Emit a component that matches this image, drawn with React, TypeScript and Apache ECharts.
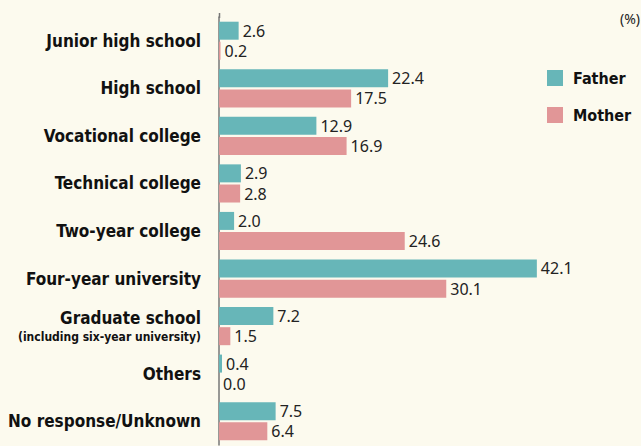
import React, { useEffect, useRef } from "react";
import * as echarts from "echarts";

const categories = [
  "Junior high school",
  "High school",
  "Vocational college",
  "Technical college",
  "Two-year college",
  "Four-year university",
  "Graduate school",
  "Others",
  "No response/Unknown",
];
const fatherValues = [2.6, 22.4, 12.9, 2.9, 2.0, 42.1, 7.2, 0.4, 7.5];
const motherValues = [0.2, 17.5, 16.9, 2.8, 24.6, 30.1, 1.5, 0.0, 6.4];
const seriesNames = ["Father", "Mother"];
const unitLabel = "(%)";

const LABEL_FONT = '"DejaVu Sans Condensed", "DejaVu Sans", sans-serif';
const VALUE_FONT = '"Noto Sans", "Open Sans", sans-serif';

export default function App() {
  const ref = useRef<HTMLDivElement>(null);
  useEffect(() => {
    if (!ref.current) return;
    const chart = echarts.init(ref.current, null, { renderer: "svg" });
    const valueLabel = {
      show: true,
      position: "right",
      distance: 4,
      color: "#222",
      fontSize: 16,
      fontFamily: VALUE_FONT,
      formatter: (p: any) => Number(p.value).toFixed(1),
    };
    chart.setOption({
      animation: false,
      backgroundColor: "#fcfaee",
      title: {
        text: unitLabel,
        right: 1,
        top: 11,
        padding: 0,
        textStyle: { fontSize: 14, fontWeight: "normal", color: "#222", fontFamily: VALUE_FONT },
      },
      legend: {
        orient: "vertical",
        left: 547,
        top: 70,
        padding: 0,
        itemWidth: 16,
        itemHeight: 16,
        itemGap: 21,
        icon: "rect",
        data: seriesNames,
        textStyle: {
          fontSize: 16,
          fontWeight: "bold",
          color: "#111",
          fontFamily: LABEL_FONT,
          padding: [0, 0, 0, 5],
        },
      },
      graphic: [
        {
          type: "line",
          shape: { x1: 219.5, y1: 13, x2: 219.5, y2: 18 },
          style: { stroke: "#777", lineWidth: 1.5 },
        },
      ],
      grid: { left: 219, top: 17, bottom: 1, width: 377.5, containLabel: false, outerBoundsMode: "none" },
      xAxis: {
        type: "value",
        min: 0,
        max: 50,
        show: false,
      },
      yAxis: {
        type: "category",
        inverse: true,
        data: categories,
        axisLine: { show: true, lineStyle: { color: "#777", width: 1.5 } },
        axisTick: { show: false },
        axisLabel: {
          margin: 18,
          color: "#111",
          fontSize: 17,
          fontWeight: "bold",
          fontFamily: LABEL_FONT,
          align: "right",
          formatter: (v: string) =>
            v === "Graduate school"
              ? "{a|Graduate school}\n{b|(including six-year university)}"
              : v,
          rich: {
            a: { fontSize: 17, fontWeight: "bold", fontFamily: LABEL_FONT, color: "#111", align: "right", lineHeight: 21 },
            b: { fontSize: 12, fontWeight: "bold", fontFamily: LABEL_FONT, color: "#111", align: "right", lineHeight: 16 },
          },
        },
      },
      series: [
        {
          name: seriesNames[0],
          type: "bar",
          data: fatherValues,
          barWidth: 18,
          barGap: "12%",
          itemStyle: { color: "#67b6b8" },
          label: valueLabel,
        },
        {
          name: seriesNames[1],
          type: "bar",
          data: motherValues,
          barWidth: 18,
          itemStyle: { color: "#e19697" },
          label: valueLabel,
        },
      ],
    });
    return () => chart.dispose();
  }, []);
  return <div ref={ref} style={{ width: 641, height: 446, position: "absolute", left: 0, top: 0 }} />;
}
